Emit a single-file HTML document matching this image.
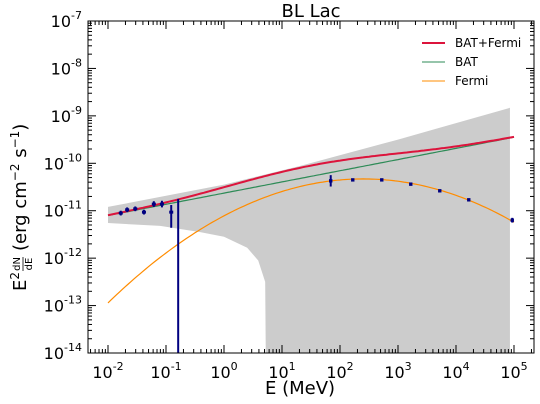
<!DOCTYPE html>
<html><head><meta charset="utf-8"><style>
body{margin:0;background:#fff;width:540px;height:404px;overflow:hidden;position:relative}
svg{position:absolute;left:0;top:0}
svg text{font-family:"DejaVu Sans","Liberation Sans",sans-serif;fill:#000}
</style></head><body>
<svg id="c" width="540" height="404" xmlns="http://www.w3.org/2000/svg"></svg>
<script>
// data (log10 values)
const batLogE=[-1.78,-1.67,-1.53,-1.38,-1.21,-1.07,-0.91];
const batLogF=[-11.05,-10.98,-10.96,-11.03,-10.86,-10.86,-11.03];
const batErrLo=[0.05,0.05,0.05,0.05,0.06,0.07,0.33];
const batErrHi=[0.05,0.05,0.05,0.05,0.06,0.07,0.15];
const ulLogE=[-0.79];
const ulLogF=[-10.75];
const fermiLogE=[1.84,2.22,2.72,3.22,3.72,4.22,4.97];
const fermiLogF=[-10.37,-10.35,-10.35,-10.44,-10.58,-10.77,-11.2];
const fermiErr=[0.12,0.02,0.02,0.02,0.02,0.02,0.05];
const batModel=[-11.1,0.2357]; // intercept at logE=-2, slope per decade
const fermiModel=[-10.33,2.4,0.135]; // peak logF, peak logE, curvature
const bandUpperE=[-2,0,1.3,3,4.93];
const bandUpperF=[-10.92,-10.45,-10.06,-9.5,-8.83];
const bandLowerE=[-2,-1.1,-0.41,0,0.4,0.59,0.71,0.72];
const bandLowerF=[-11.26,-11.32,-11.45,-11.55,-11.78,-12.05,-12.5,-14];
const xTicks=[-2,-1,0,1,2,3,4,5];
const yTicks=[-7,-8,-9,-10,-11,-12,-13,-14];

const L=88,R=534,T=21,B=353;
const X=e=>108+(e+2)*58;
const Y=f=>T+(-7-f)*47.43;
const svg=document.getElementById('c');
const NS='http://www.w3.org/2000/svg';
function mk(tag,at,parent){const el=document.createElementNS(NS,tag);for(const k in at)el.setAttribute(k,at[k]);(parent||svg).appendChild(el);return el;}

let pts=bandUpperE.map((e,i)=>X(e)+','+Y(bandUpperF[i]));
pts.push(X(4.93)+','+Y(-14));
for(let i=bandLowerE.length-1;i>=0;i--)pts.push(X(bandLowerE[i])+','+Y(bandLowerF[i]));
let band=mk('polygon',{points:pts.join(' '),fill:'#cccccc'});



const batF=e=>batModel[0]+batModel[1]*(e+2);
const ferF=e=>fermiModel[0]-fermiModel[2]*(e-fermiModel[1])**2;
function curve(fn){let d='';for(let e=-2;e<=5.0001;e+=0.05){d+=(d?'L':'M')+X(e).toFixed(1)+','+Y(fn(e)).toFixed(1);}return d;}
let c1=mk('path',{d:curve(ferF),stroke:'#ff8c00',fill:'none','stroke-width':1.2});


let c2=mk('path',{d:curve(batF),stroke:'#2e8b57',fill:'none','stroke-width':1.2});


let c3=mk('path',{d:curve(e=>Math.log10(10**batF(e)+10**ferF(e))),stroke:'#dc143c',fill:'none','stroke-width':2});



batLogE.forEach((e,i)=>{
 let g=mk('g',{});
 
 
 mk('line',{x1:X(e),x2:X(e),y1:Y(batLogF[i]+batErrHi[i]),y2:Y(batLogF[i]-batErrLo[i]),stroke:'#000080','stroke-width':2},g);
 mk('rect',{x:X(e)-2,y:Y(batLogF[i])-1.5,width:4,height:3,fill:'#000080'},g);
});
ulLogE.forEach((e,i)=>{
 let l=mk('line',{x1:X(e),x2:X(e),y1:Y(ulLogF[i]),y2:B,stroke:'#000080','stroke-width':2});
 
 
});
fermiLogE.forEach((e,i)=>{
 let g=mk('g',{});
 
 
 mk('line',{x1:X(e),x2:X(e),y1:Y(fermiLogF[i]+fermiErr[i]),y2:Y(fermiLogF[i]-fermiErr[i]),stroke:'#000080','stroke-width':2},g);
 mk('rect',{x:X(e)-1.7,y:Y(fermiLogF[i])-1.7,width:3.4,height:3.4,fill:'#000080'},g);
});

let fr=mk('rect',{x:L,y:T,width:R-L,height:B-T,fill:'none',stroke:'#000','stroke-width':1});


for(let d=-3;d<=5;d++){for(let m=1;m<10;m++){const x=X(d+Math.log10(m));if(x<L||x>R)continue;const len=m==1?8:4;
 mk('line',{x1:x,x2:x,y1:B,y2:B-len,stroke:'#000'});mk('line',{x1:x,x2:x,y1:T,y2:T+len,stroke:'#000'});}}
for(let d=-14;d<-7;d++){for(let m=2;m<10;m++){const y=Y(d+Math.log10(m));
 mk('line',{x1:L,x2:L+4,y1:y,y2:y,stroke:'#000'});mk('line',{x1:R,x2:R-4,y1:y,y2:y,stroke:'#000'});}}
yTicks.forEach(f=>{const y=Y(f);
 mk('line',{x1:L,x2:L+8,y1:y,y2:y,stroke:'#000'});mk('line',{x1:R,x2:R-8,y1:y,y2:y,stroke:'#000'});
 let t=mk('text',{x:L-6,y:y+6,'text-anchor':'end','font-size':16});t.innerHTML='10<tspan dy="-8" font-size="11">'+f+'</tspan>';
 
 
});
xTicks.forEach(e=>{const x=X(e);
 let t=mk('text',{x:x,y:B+25,'text-anchor':'middle','font-size':16});t.innerHTML='10<tspan dy="-8" font-size="11">'+e+'</tspan>';
 
 
});
</script>
<svg width="540" height="404" xmlns="http://www.w3.org/2000/svg">
<text x="311" y="17" text-anchor="middle" font-size="18">BL Lac</text>
<text x="300" y="394" text-anchor="middle" font-size="18">E (MeV)</text>
<g transform="translate(26,187) rotate(-90)">
<text x="-104" y="0" font-size="18">E<tspan dy="-7" font-size="12">2</tspan></text>
<text x="-77" y="-6" font-size="10" text-anchor="middle">dN</text>
<line x1="-84" y1="-3" x2="-70" y2="-3" stroke="#000" stroke-width="0.8"/>
<text x="-77" y="6" font-size="10" text-anchor="middle">dE</text>
<text x="-64" y="0" font-size="18">(erg cm<tspan dy="-7" font-size="12">−2</tspan><tspan dy="7"> s</tspan><tspan dy="-7" font-size="12">−1</tspan><tspan dy="7">)</tspan></text>
</g>
<g font-size="12">
<line x1="422" y1="43" x2="445" y2="43" stroke="#dc143c" stroke-width="2"/><text x="455" y="47">BAT+Fermi</text>
<line x1="422" y1="62" x2="445" y2="62" stroke="#2e8b57" stroke-width="1"/><text x="455" y="66">BAT</text>
<line x1="422" y1="81" x2="445" y2="81" stroke="#ff8c00" stroke-width="1"/><text x="455" y="85">Fermi</text>
</g>
</svg>
</body></html>
